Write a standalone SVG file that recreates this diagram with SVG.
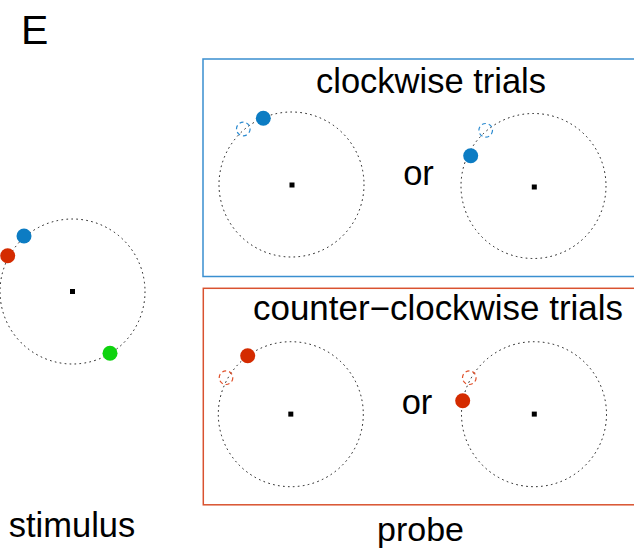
<svg xmlns="http://www.w3.org/2000/svg" width="634" height="549" viewBox="0 0 634 549">
<style>
  .t { font-family: "Liberation Sans", Arial, sans-serif; fill: #000; }
  .ring { fill: none; stroke: #111; stroke-width: 1; stroke-dasharray: 1.6 3.4; }
  .ctr { fill: #000; }
  .blue { fill: #0c7cc3; }
  .red { fill: #d42b00; }
  .green { fill: #0fd30f; }
  .ghostB { fill: none; stroke: #2a8ad0; stroke-width: 1.2; stroke-dasharray: 4 3; }
  .ghostR { fill: none; stroke: #e0502a; stroke-width: 1.2; stroke-dasharray: 4 3; }
</style>
<rect width="634" height="549" fill="#fff"/>
<text class="t" x="21" y="44" font-size="41">E</text>

<g id="stimulus">
  <circle class="ring" cx="72.5" cy="291.5" r="72.5"/>
  <rect class="ctr" x="70" y="289" width="5" height="5"/>
  <circle class="blue" cx="24" cy="236" r="7.5"/>
  <circle class="red" cx="7.7" cy="255.7" r="7.5"/>
  <circle class="green" cx="110" cy="353.3" r="7.5"/>
  <text class="t" x="72" y="537" font-size="34.5" text-anchor="middle">stimulus</text>
</g>

<g id="clockwise">
  <rect x="203" y="59" width="440" height="217.5" fill="none" stroke="#3a8fd0" stroke-width="1.5"/>
  <text class="t" x="431" y="92.5" font-size="34.5" text-anchor="middle">clockwise trials</text>
  <g id="cw-left">
    <circle class="ring" cx="291.5" cy="184.5" r="72.5"/>
    <rect class="ctr" x="289.5" y="182.5" width="5" height="5"/>
    <circle class="ghostB" cx="243.3" cy="129" r="6.8"/>
    <circle class="blue" cx="263.3" cy="118.3" r="7.5"/>
  </g>
  <text class="t" x="418.5" y="184.5" font-size="34.5" text-anchor="middle">or</text>
  <g id="cw-right">
    <circle class="ring" cx="533.5" cy="186" r="72.5"/>
    <rect class="ctr" x="531.8" y="184.5" width="5" height="5"/>
    <circle class="ghostB" cx="485.7" cy="130.3" r="6.8"/>
    <circle class="blue" cx="470.7" cy="155.7" r="7.5"/>
  </g>
</g>

<g id="counterclockwise">
  <rect x="203.3" y="288.3" width="440" height="216.5" fill="none" stroke="#d9522f" stroke-width="1.5"/>
  <text class="t" x="438" y="320" font-size="34.5" text-anchor="middle" textLength="370" lengthAdjust="spacingAndGlyphs">counter−clockwise trials</text>
  <g id="ccw-left">
    <circle class="ring" cx="290.8" cy="414.2" r="72.5"/>
    <rect class="ctr" x="288.3" y="411.6" width="5" height="5"/>
    <circle class="ghostR" cx="226" cy="377.7" r="6.8"/>
    <circle class="red" cx="247.7" cy="355.7" r="7.5"/>
  </g>
  <text class="t" x="417" y="414" font-size="34.5" text-anchor="middle">or</text>
  <g id="ccw-right">
    <circle class="ring" cx="534" cy="414.2" r="72.5"/>
    <rect class="ctr" x="531.8" y="411.6" width="5" height="5"/>
    <circle class="ghostR" cx="469.3" cy="377.7" r="6.8"/>
    <circle class="red" cx="462.7" cy="400.7" r="7.5"/>
  </g>
</g>

<text class="t" x="420.5" y="540.5" font-size="34" text-anchor="middle">probe</text>
<g id="connectors"/>
</svg>
